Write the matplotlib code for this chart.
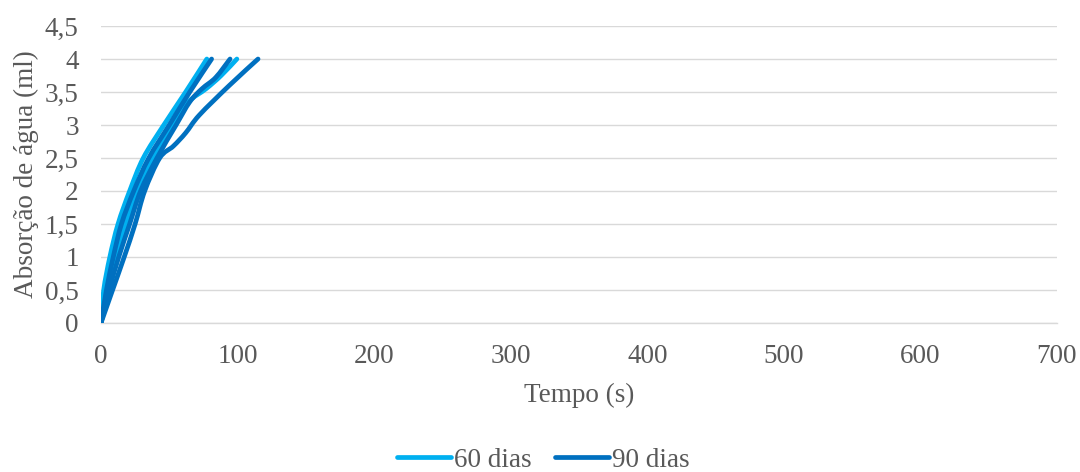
import matplotlib
matplotlib.use("Agg")
import matplotlib.pyplot as plt
from matplotlib.path import Path
from matplotlib.patches import PathPatch
from matplotlib.lines import Line2D
from matplotlib.ticker import FuncFormatter, MultipleLocator

# Specimens aged 60 days: elapsed time (s) and absorbed water (ml)
tempo_60_a = [0, 2.0, 6.5, 12.5, 21, 31, 46, 62, 77.5]
agua_60_a = [0, 0.5, 1.0, 1.5, 2.0, 2.5, 3.0, 3.5, 4.0]
tempo_60_b = [0, 5.0, 11, 18, 27, 38, 52, 64, 77, 88, 99.5]
agua_60_b = [0, 0.5, 1.0, 1.5, 2.0, 2.5, 3.0, 3.35, 3.55, 3.75, 4.0]

# Specimens aged 90 days
tempo_90_a = [0, 4.0, 9.0, 15, 24, 35, 50, 65, 81]
agua_90_a = [0, 0.5, 1.0, 1.5, 2.0, 2.5, 3.0, 3.5, 4.0]
tempo_90_b = [0, 6.0, 13, 21, 29, 41, 55, 65, 74, 84, 94.5]
agua_90_b = [0, 0.5, 1.0, 1.5, 2.0, 2.5, 3.0, 3.35, 3.55, 3.72, 4.0]
tempo_90_c = [0, 8.5, 17, 25, 32, 43, 53, 62, 72, 94, 115]
agua_90_c = [0, 0.5, 1.0, 1.5, 2.0, 2.5, 2.68, 2.88, 3.15, 3.6, 4.0]

series_60 = [(tempo_60_a, agua_60_a), (tempo_60_b, agua_60_b)]
series_90 = [(tempo_90_a, agua_90_a), (tempo_90_b, agua_90_b), (tempo_90_c, agua_90_c)]

cor_60 = "#00B0F0"
cor_90 = "#0070C0"
texto = "#595959"
grade = "#D9D9D9"
fs = 19.5

plt.rcParams["font.family"] = ["Liberation Serif", "DejaVu Serif"]


def smooth_path(xs, ys):
    """Smoothed line through the points using cubic Bezier segments."""
    pts = list(zip(xs, ys))
    n = len(pts)
    verts = [pts[0]]
    codes = [Path.MOVETO]
    for i in range(n - 1):
        p0 = pts[i - 1] if i > 0 else pts[i]
        p1 = pts[i]
        p2 = pts[i + 1]
        p3 = pts[i + 2] if i + 2 < n else pts[i + 1]
        c1 = (p1[0] + (p2[0] - p0[0]) / 6, p1[1] + (p2[1] - p0[1]) / 6)
        c2 = (p2[0] - (p3[0] - p1[0]) / 6, p2[1] - (p3[1] - p1[1]) / 6)
        verts += [c1, c2, p2]
        codes += [Path.CURVE4, Path.CURVE4, Path.CURVE4]
    return Path(verts, codes)


fig = plt.figure(figsize=(10.8, 4.72), dpi=100)
ax = fig.add_axes([0.0935, 0.3157, 0.8852, 0.6292])
ax.set_xlim(0, 700)
ax.set_ylim(0, 4.5)

for (x, y), cor in [(s, cor_60) for s in series_60] + [(s, cor_90) for s in series_90]:
    patch = PathPatch(smooth_path(x, y), fill=False, edgecolor=cor,
                      lw=3.4, capstyle="round", joinstyle="round", zorder=3)
    ax.add_patch(patch)

ax.yaxis.set_major_locator(MultipleLocator(0.5))
ax.xaxis.set_major_locator(MultipleLocator(100))
fmt = FuncFormatter(lambda v, p: (f"{v:g}").replace(".", ","))
ax.yaxis.set_major_formatter(fmt)
ax.grid(axis="y", color=grade, lw=1.0)
ax.set_axisbelow(True)
for side in ["top", "right", "left"]:
    ax.spines[side].set_visible(False)
ax.spines["bottom"].set_color(grade)
ax.spines["bottom"].set_linewidth(1.0)
ax.tick_params(length=0, labelsize=fs, labelcolor=texto)
ax.tick_params(axis="y", pad=16)
ax.tick_params(axis="x", pad=15)

ax.set_xlabel("Tempo (s)", fontsize=fs, color=texto, labelpad=10)
ax.set_ylabel("Absorção de água (ml)", fontsize=fs, color=texto, labelpad=4)

handles = [Line2D([], [], color=cor_60, lw=3.4, solid_capstyle="round"),
           Line2D([], [], color=cor_90, lw=3.4, solid_capstyle="round")]
fig.legend(handles, ["60 dias", "90 dias"], loc="center", bbox_to_anchor=(0.503, 0.025),
           ncol=2, frameon=False, fontsize=fs, labelcolor=texto,
           handlelength=2.0, handletextpad=0.1, columnspacing=0.85)

fig.savefig("out.png", dpi=100)
